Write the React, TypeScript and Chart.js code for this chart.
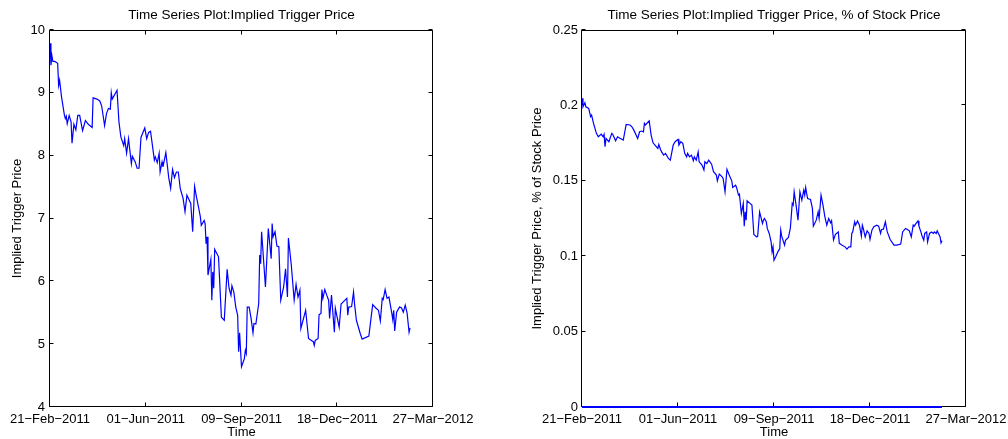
import React, { useEffect, useRef } from 'react';
import { Chart, registerables } from 'chart.js';

Chart.register(...registerables);

const FONT = '"Liberation Sans", Arial, Helvetica, sans-serif';

// x axis: days since 21-Feb-2011
const xTickValues = [0, 100, 200, 300, 400];
const xTickLabels = ['21\u2212Feb\u22122011', '01\u2212Jun\u22122011', '09\u2212Sep\u22122011', '18\u2212Dec\u22122011', '27\u2212Mar\u22122012'];

const leftTitle = 'Time Series Plot:Implied Trigger Price';
const rightTitle = 'Time Series Plot:Implied Trigger Price, % of Stock Price';
const leftYLabel = 'Implied Trigger Price';
const rightYLabel = 'Implied Trigger Price, % of Stock Price';
const xLabel = 'Time';

const leftYTicks = [4, 5, 6, 7, 8, 9, 10];
const rightYTicks = ['0', '0.05', '0.1', '0.15', '0.2', '0.25'];

const leftDays = [0,1,2,3,5,8,9,10,12,15,16,17,18,20,22,23,25,27,29,31,34,37,40,44,45,49,52,54,57,59,61,63,64,65,70,72,74,77,78,80,82,85,86,89,91,93,95,99,101,103,105,109,110,112,114,115,117,118,121,124,126,128,130,132,134,136,139,141,143,147,149,151,153,155,157,158,161,162,163,164,165,168,169,170,171,172,176,179,182,185,187,189,190,192,194,196,197,198,200,203,204,205,206,208,210,212,213,215,218,219,220,221,225,228,231,232,233,235,237,239,241,244,246,248,249,252,255,257,259,261,262,267,270,273,275,276,277,280,281,283,284,285,287,289,291,292,294,297,298,302,304,306,310,311,312,315,317,318,320,324,326,333,337,340,343,345,347,348,350,352,354,357,358,359,360,362,365,367,369,371,373,375,376];
const leftPrice = [9.79,9.44,9.59,9.50,9.50,9.47,9.12,9.20,8.94,8.65,8.59,8.63,8.51,8.64,8.54,8.20,8.50,8.41,8.64,8.64,8.40,8.56,8.50,8.45,8.92,8.90,8.87,8.79,8.48,8.67,8.75,8.74,9.00,8.90,9.04,8.54,8.30,8.16,8.27,8.04,8.27,7.87,7.99,7.90,7.80,7.80,8.29,8.44,8.27,8.37,8.39,7.93,7.98,7.89,8.04,7.74,7.90,7.82,8.05,7.65,7.48,7.78,7.65,7.74,7.74,7.48,7.32,7.11,7.37,7.24,6.79,7.51,7.34,7.19,7.03,6.89,6.97,6.92,6.60,6.71,6.10,6.35,5.70,6.15,5.89,6.51,6.39,5.43,5.38,6.19,5.89,5.78,5.93,5.83,5.59,5.46,4.88,5.18,4.64,4.77,4.90,4.85,5.59,5.59,5.41,5.18,5.33,5.32,5.65,6.42,6.28,6.79,5.91,6.84,6.36,6.92,6.71,6.79,6.56,6.55,5.70,5.91,6.20,5.75,6.69,6.26,5.70,5.95,5.75,5.86,5.25,5.54,5.09,5.06,5.04,4.98,5.06,5.09,5.47,5.49,5.87,5.73,5.87,5.78,5.70,5.41,5.78,5.19,5.57,5.27,5.64,5.67,5.73,5.46,5.59,5.60,5.83,5.65,5.38,5.17,5.08,5.13,5.63,5.58,5.54,5.37,5.73,5.71,5.87,5.73,5.75,5.49,5.39,5.54,5.21,5.51,5.59,5.58,5.51,5.62,5.49,5.19,5.26];

const rightDays = [0,1,3,4,7,9,10,12,15,17,20,22,23,24,25,28,31,32,35,37,40,43,46,50,52,54,58,60,62,64,65,66,70,72,74,76,79,80,82,83,85,87,89,90,92,95,97,100,101,103,105,107,109,110,112,114,116,117,119,121,122,125,127,128,130,132,135,137,140,141,143,146,147,149,151,153,156,157,160,161,163,164,166,167,168,169,170,171,172,175,177,179,182,183,185,188,189,190,192,193,195,197,198,199,200,202,204,206,207,208,211,212,215,217,219,220,221,223,225,227,229,231,232,233,234,235,238,240,241,244,246,247,249,251,253,255,257,259,260,262,264,267,268,271,274,276,278,280,281,282,284,285,287,289,291,292,293,295,297,299,300,302,304,307,309,311,312,314,316,318,321,325,328,332,334,337,339,341,343,345,346,348,350,351,353,354,356,357,359,360,362,364,366,367,369,370,373,374,375];
const rightPct = [0.2047,0.1991,0.2018,0.1991,0.1980,0.1925,0.1936,0.1881,0.1815,0.1792,0.1810,0.1792,0.1808,0.1726,0.1781,0.1759,0.1815,0.1808,0.1765,0.1792,0.1781,0.1770,0.1874,0.1870,0.1858,0.1836,0.1781,0.1825,0.1830,0.1825,0.1881,0.1870,0.1898,0.1803,0.1752,0.1737,0.1715,0.1741,0.1704,0.1692,0.1670,0.1682,0.1659,0.1648,0.1637,0.1737,0.1759,0.1775,0.1737,0.1759,0.1748,0.1682,0.1659,0.1682,0.1659,0.1670,0.1633,0.1659,0.1637,0.1692,0.1626,0.1604,0.1571,0.1626,0.1615,0.1637,0.1610,0.1560,0.1538,0.1500,0.1544,0.1526,0.1516,0.1427,0.1576,0.1544,0.1500,0.1456,0.1471,0.1456,0.1405,0.1412,0.1283,0.1317,0.1350,0.1199,0.1294,0.1239,0.1367,0.1350,0.1339,0.1144,0.1128,0.1133,0.1294,0.1217,0.1239,0.1250,0.1228,0.1184,0.1151,0.1095,0.1029,0.1062,0.0974,0.1000,0.1029,0.1051,0.1173,0.1133,0.1073,0.1106,0.1124,0.1184,0.1350,0.1339,0.1427,0.1339,0.1239,0.1427,0.1372,0.1438,0.1405,0.1456,0.1416,0.1383,0.1376,0.1317,0.1199,0.1239,0.1294,0.1250,0.1405,0.1339,0.1261,0.1206,0.1250,0.1221,0.1235,0.1108,0.1145,0.1161,0.1085,0.1073,0.1062,0.1047,0.1062,0.1062,0.1151,0.1161,0.1228,0.1206,0.1234,0.1206,0.1133,0.1206,0.1184,0.1128,0.1168,0.1151,0.1111,0.1173,0.1195,0.1206,0.1199,0.1151,0.1177,0.1179,0.1228,0.1161,0.1111,0.1073,0.1073,0.1080,0.1161,0.1184,0.1177,0.1168,0.1128,0.1206,0.1199,0.1217,0.1234,0.1199,0.1161,0.1139,0.1106,0.1151,0.1161,0.1095,0.1151,0.1161,0.1151,0.1161,0.1151,0.1168,0.1128,0.1088,0.1102];

const zeroDays = [0, 375];
const zeroVals = [0, 0];

const toPoints = (xs: number[], ys: number[]) => xs.map((x, i) => ({ x, y: ys[i] }));

const framePlugin = {
  id: 'matlabFrame',
  beforeDatasetsDraw(chart: any) {
    const { ctx, chartArea } = chart;
    const l = Math.round(chartArea.left) - 0.5;
    const r = Math.round(chartArea.right) - 0.5;
    const t = Math.round(chartArea.top) + 0.5;
    const b = Math.round(chartArea.bottom) - 0.5;
    ctx.save();
    ctx.strokeStyle = '#000';
    ctx.lineWidth = 1;
    ctx.beginPath();
    ctx.rect(l, t, r - l, b - t);
    const tl = 4;
    const xs = chart.scales.x;
    xs.ticks.forEach((tk: any) => {
      const px = Math.round(xs.getPixelForValue(tk.value)) - 0.5;
      ctx.moveTo(px, b); ctx.lineTo(px, b - tl);
      ctx.moveTo(px, t); ctx.lineTo(px, t + tl);
    });
    const ys = chart.scales.y;
    ys.ticks.forEach((tk: any) => {
      const py = Math.round(ys.getPixelForValue(tk.value)) - 0.5;
      ctx.moveTo(l, py); ctx.lineTo(l + tl, py);
      ctx.moveTo(r, py); ctx.lineTo(r - tl, py);
    });
    ctx.stroke();
    ctx.restore();
  },
  afterDraw(chart: any, _args: any, opts: any) {
    const { ctx, chartArea } = chart;
    ctx.save();
    ctx.fillStyle = '#000';
    ctx.font = `13.5px ${FONT}`;
    ctx.textAlign = 'center';
    ctx.textBaseline = 'alphabetic';
    ctx.fillText(opts.title, (chartArea.left + chartArea.right) / 2, 19);
    ctx.restore();
  },
};

function makeConfig(p: {
  title: string; yTitle: string; yMin: number; yMax: number; yStep: number;
  yFmt: (v: number) => string; datasets: any[]; yWidth: number; yTitlePad: number;
  rightPad: number; yTickPad: number;
}) {
  return {
    type: 'line',
    data: { datasets: p.datasets },
    plugins: [framePlugin],
    options: {
      animation: false,
      responsive: false,
      devicePixelRatio: 1,
      layout: { padding: { top: 30, right: p.rightPad, left: 0, bottom: 0 } },
      plugins: {
        legend: { display: false },
        tooltip: { enabled: false },
        matlabFrame: { title: p.title },
      },
      elements: { point: { radius: 0 }, line: { tension: 0 } },
      scales: {
        x: {
          type: 'linear',
          min: 0,
          max: 400,
          afterBuildTicks: (s: any) => { s.ticks = xTickValues.map((v) => ({ value: v })); },
          ticks: {
            autoSkip: false,
            maxRotation: 0,
            padding: 5,
            color: '#000',
            font: { family: FONT, size: 13 },
            callback: (v: number) => xTickLabels[xTickValues.indexOf(v)] ?? '',
          },
          grid: { display: false, drawTicks: false },
          border: { display: false },
          title: { display: true, text: xLabel, color: '#000', font: { family: FONT, size: 13, lineHeight: 1 }, padding: 0 },
          afterFit: (s: any) => { s.height = 32; s.paddingLeft = 0; s.paddingRight = 0; },
        },
        y: {
          type: 'linear',
          min: p.yMin,
          max: p.yMax,
          ticks: {
            stepSize: p.yStep,
            padding: p.yTickPad,
            color: '#000',
            font: { family: FONT, size: 13 },
            callback: (v: number) => p.yFmt(v),
          },
          grid: { display: false, drawTicks: false },
          border: { display: false },
          title: { display: true, text: p.yTitle, color: '#000', font: { family: FONT, size: 13, lineHeight: 1.2 }, padding: { top: p.yTitlePad, bottom: 0 } },
          afterFit: (s: any) => { s.width = p.yWidth; s.paddingTop = 0; s.paddingBottom = 0; },
        },
      },
    },
  };
}

function ChartCanvas({ width, height, left, config }: { width: number; height: number; left: number; config: any }) {
  const ref = useRef<HTMLCanvasElement>(null);
  useEffect(() => {
    const chart = new Chart(ref.current as HTMLCanvasElement, config);
    return () => chart.destroy();
  }, []);
  return (
    <canvas
      ref={ref}
      width={width}
      height={height}
      style={{ position: 'absolute', left, top: 0, width, height }}
    />
  );
}

export default function App() {
  const leftCfg = makeConfig({
    title: leftTitle,
    yTitle: leftYLabel,
    yMin: leftYTicks[0],
    yMax: leftYTicks[leftYTicks.length - 1],
    yStep: 1,
    yFmt: (v) => String(v),
    yWidth: 50,
    yTitlePad: 10,
    rightPad: 67,
    yTickPad: 5,
    datasets: [
      { data: toPoints(leftDays, leftPrice), borderColor: '#0000ff', borderWidth: 1.2, pointRadius: 0, fill: false },
    ],
  });
  const rightCfg = makeConfig({
    title: rightTitle,
    yTitle: rightYLabel,
    yMin: 0,
    yMax: 0.25,
    yStep: 0.05,
    yFmt: (v) => rightYTicks[Math.round(v / 0.05)] ?? '',
    yWidth: 82,
    yTitlePad: 30,
    rightPad: 42,
    yTickPad: 4,
    datasets: [
      { data: toPoints(rightDays, rightPct), borderColor: '#0000ff', borderWidth: 1.2, pointRadius: 0, fill: false },
      { data: toPoints(zeroDays, zeroVals), borderColor: '#0000ff', borderWidth: 2, pointRadius: 0, fill: false, clip: false },
    ],
  });
  return (
    <div style={{ position: 'absolute', left: 0, top: 0, width: 1008, height: 439, background: '#fff' }}>
      <ChartCanvas width={500} height={439} left={0} config={leftCfg} />
      <ChartCanvas width={508} height={439} left={500} config={rightCfg} />
    </div>
  );
}
